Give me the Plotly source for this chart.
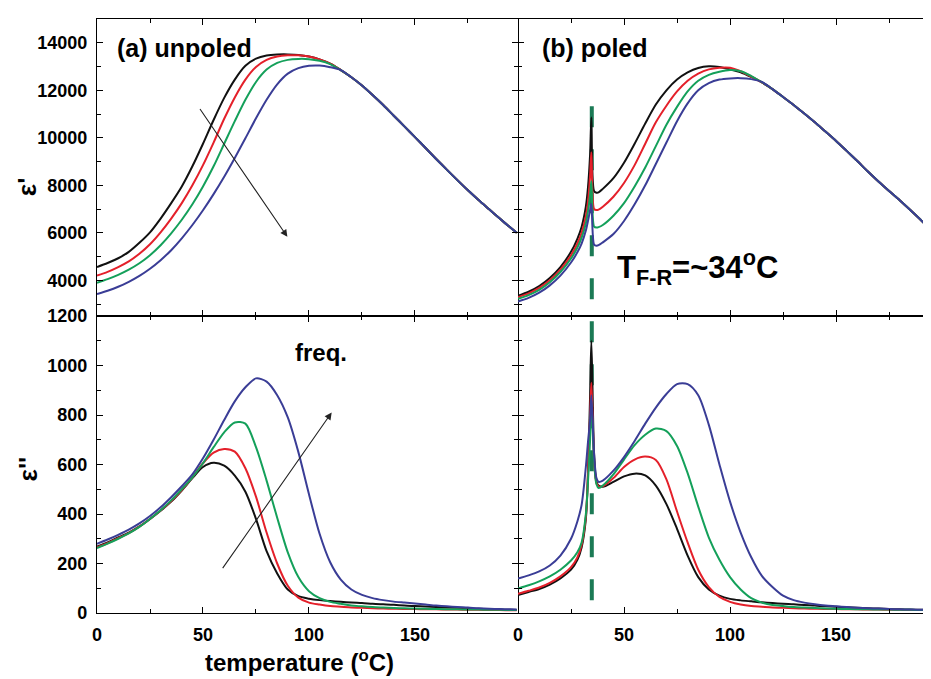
import plotly.graph_objects as go

# ---------------- data ----------------
temp_unpoled = [0, 5, 10, 15, 20, 25, 30, 35, 40, 45, 50, 55, 60, 65, 70, 75, 80, 85, 90, 95,
                100, 105, 110, 115, 120, 125, 130, 135, 140, 145, 150, 155, 160, 165, 170, 175,
                180, 185, 190, 195, 198]
temp_poled = [0, 5, 10, 15, 20, 25, 28, 30, 32, 33, 34, 34.6, 35.9, 37, 38, 40,
              45, 50, 55, 60, 65, 70, 75, 80, 85, 90, 95, 100, 105, 110, 115, 120, 125, 130,
              135, 140, 145, 150, 155, 160, 165, 170, 175, 180, 185, 190, 195]

# (a) unpoled, real part
er_unpoled_black = [4565, 4730, 4930, 5200, 5580, 6020, 6600, 7250, 7950, 8800, 9750, 10750, 11680,
                    12450, 13030, 13330, 13460, 13505, 13510, 13490, 13420, 13300, 13120,
                    12850, 12550, 12200, 11800, 11380, 10930, 10480, 10030, 9570, 9110, 8660, 8220,
                    7790, 7380, 6990, 6600, 6220, 6000]
er_unpoled_red = [4200, 4360, 4560, 4800, 5120, 5520, 6020, 6600, 7250, 8000, 8850, 9800, 10800,
                  11700, 12450, 12980, 13280, 13420, 13470, 13470, 13420, 13300, 13120,
                  12850, 12550, 12200, 11800, 11380, 10930, 10480, 10030, 9570, 9110, 8660, 8220,
                  7790, 7380, 6990, 6600, 6220, 6000]
er_unpoled_green = [3900, 4050, 4230, 4450, 4720, 5060, 5480, 5980, 6550, 7200, 7950, 8800, 9750,
                    10700, 11600, 12350, 12870, 13150, 13280, 13320, 13310, 13240, 13100,
                    12850, 12550, 12200, 11800, 11380, 10930, 10480, 10030, 9570, 9110, 8660, 8220,
                    7790, 7380, 6990, 6600, 6220, 6000]
er_unpoled_blue = [3420, 3560, 3730, 3940, 4190, 4490, 4850, 5270, 5770, 6330, 6950, 7630, 8360,
                   9150, 9980, 10820, 11600, 12250, 12700, 12930, 13030, 13040, 12970,
                   12850, 12550, 12200, 11800, 11380, 10930, 10480, 10030, 9570, 9110, 8660, 8220,
                   7790, 7380, 6990, 6600, 6220, 6000]

# (a) unpoled, imaginary part
ei_unpoled_black = [268, 285, 305, 325, 350, 380, 413, 450, 495, 545, 590, 607, 595, 555, 490, 380,
                    250, 160, 95, 68, 58, 52, 48, 45, 42, 40, 37, 35, 33, 30, 28, 26, 24, 22, 20,
                    18, 17, 15, 14, 13, 12]
ei_unpoled_red = [265, 282, 302, 323, 349, 380, 414, 452, 497, 548, 605, 648, 663, 652, 585, 470,
                  325, 200, 110, 62, 42, 34, 28, 25, 22, 21, 19, 18, 17, 16, 16, 15, 15, 14, 14,
                  13, 13, 12, 12, 11, 11]
ei_unpoled_green = [262, 280, 300, 322, 348, 380, 415, 455, 500, 548, 605, 670, 730, 770, 765, 670,
                    535, 385, 245, 145, 88, 60, 45, 37, 30, 27, 24, 22, 20, 19, 18, 17, 16, 15, 15,
                    14, 14, 13, 13, 12, 12]
ei_unpoled_blue = [280, 297, 316, 337, 362, 392, 427, 468, 512, 560, 625, 700, 780, 855, 912, 948,
                   935, 880, 790, 650, 480, 320, 205, 135, 95, 73, 60, 52, 46, 42, 38, 34, 30, 27,
                   24, 22, 19, 17, 16, 15, 14]

# (b) poled, real part
er_poled_black = [3350, 3520, 3760, 4100, 4560, 5200, 5750, 6250, 7100, 7900, 9300, 10850, 7750,
                  7690, 7700, 7850, 8300, 8950, 9750, 10600, 11400, 12000, 12450, 12750, 12940,
                  13010, 12980, 12880, 12760, 12560, 12330, 12050, 11720, 11380, 11020, 10650,
                  10260, 9870, 9450, 9020, 8580, 8160, 7760, 7370, 6960, 6540, 6100]
er_poled_red = [3290, 3450, 3680, 4000, 4450, 5050, 5550, 6000, 6700, 7300, 8400, 9390, 7000,
                6960, 6980, 7100, 7520, 8100, 8850, 9750, 10650, 11350, 11950, 12400, 12700,
                12880, 12950, 12950, 12800, 12580, 12330, 12050, 11720, 11380, 11020, 10650,
                10260, 9870, 9450, 9020, 8580, 8160, 7760, 7370, 6960, 6540, 6100]
er_poled_green = [3220, 3380, 3600, 3920, 4350, 4920, 5380, 5800, 6400, 6900, 7600, 8170, 6260,
                  6220, 6240, 6330, 6720, 7250, 7950, 8750, 9650, 10550, 11300, 11950, 12400,
                  12650, 12780, 12850, 12800, 12600, 12340, 12050, 11720, 11380, 11020, 10650,
                  10260, 9870, 9450, 9020, 8580, 8160, 7760, 7370, 6960, 6540, 6100]
er_poled_blue = [3110, 3260, 3480, 3790, 4200, 4750, 5180, 5550, 6100, 6500, 6950, 7210, 5500,
                 5460, 5480, 5600, 5950, 6500, 7200, 8000, 8900, 9800, 10700, 11450, 12000,
                 12300, 12450, 12500, 12510, 12470, 12350, 12050, 11720, 11380, 11020, 10650,
                 10260, 9870, 9450, 9020, 8580, 8160, 7760, 7370, 6960, 6540, 6100]

# (b) poled, imaginary part
ei_poled_black = [73, 85, 97, 115, 140, 175, 215, 265, 380, 560, 880, 1100, 640, 530, 515, 510,
                  530, 552, 563, 556, 515, 440, 340, 232, 145, 95, 70, 57, 51, 47, 43, 40, 37, 35,
                  32, 30, 27, 25, 23, 21, 19, 18, 16, 15, 14, 13, 12]
ei_poled_red = [78, 90, 103, 122, 148, 185, 225, 275, 390, 560, 800, 930, 620, 525, 512, 512,
                545, 590, 620, 632, 618, 540, 410, 285, 175, 105, 65, 45, 34, 28, 25, 22, 21, 19,
                18, 17, 16, 16, 15, 15, 14, 14, 13, 13, 12, 12, 12]
ei_poled_green = [99, 112, 128, 148, 175, 212, 245, 285, 400, 530, 700, 860, 610, 520, 505, 515,
                  560, 620, 678, 720, 745, 735, 675, 565, 430, 305, 215, 145, 95, 60, 42, 32, 28,
                  24, 22, 20, 18, 17, 16, 15, 15, 14, 14, 13, 13, 12, 12]
ei_poled_blue = [139, 152, 168, 192, 232, 300, 370, 437, 590, 690, 780, 880, 640, 545, 530, 535,
                 575, 630, 695, 765, 830, 885, 925, 925, 880, 760, 600, 450, 325, 225, 150, 105,
                 70, 52, 42, 35, 30, 27, 24, 21, 19, 18, 16, 15, 14, 13, 13]

x_tick_values = [0, 50, 100, 150]
transition_temp = 34.8

# ---------------- figure ----------------
colors = ["#111111", "#e4202a", "#14a05a", "#3a3d96"]
FONT = "Liberation Sans, Arial, Helvetica, sans-serif"

fig = go.Figure()

panels = [
    (temp_unpoled, [er_unpoled_black, er_unpoled_red, er_unpoled_green, er_unpoled_blue], "x", "y"),
    (temp_poled, [er_poled_black, er_poled_red, er_poled_green, er_poled_blue], "x2", "y2"),
    (temp_unpoled, [ei_unpoled_black, ei_unpoled_red, ei_unpoled_green, ei_unpoled_blue], "x3", "y3"),
    (temp_poled, [ei_poled_black, ei_poled_red, ei_poled_green, ei_poled_blue], "x4", "y4"),
]
for xs, series, xa, ya in panels:
    for ys, c in zip(series, colors):
        fig.add_trace(go.Scatter(x=xs, y=ys, mode="lines", xaxis=xa, yaxis=ya,
                                 line=dict(color=c, width=2, shape="spline", smoothing=0.8),
                                 showlegend=False, hoverinfo="skip"))

tick_font = dict(family=FONT, size=18, color="black", weight="bold")
common = dict(showline=True, linecolor="black", linewidth=1.2, ticks="inside", ticklen=6,
              tickwidth=1.2, tickcolor="black", showgrid=False, zeroline=False,
              tickfont=tick_font, ticklabelstandoff=5)

LW = 421 / 833
x_minor = dict(dtick=25, tick0=0, ticks="inside", ticklen=4, tickcolor="black", tickwidth=1.2,
               showgrid=False)
xcommon = dict(common, tickmode="array", tickvals=x_tick_values, minor=x_minor, mirror="ticks")

def ycfg(dom, anchor, rng, dt, mdt, labels, line=True, mirror="ticks"):
    d = dict(common, domain=dom, anchor=anchor, range=rng, dtick=dt, tick0=0, tickformat="d",
             minor=dict(dtick=mdt, ticks="inside", ticklen=4, tickcolor="black", tickwidth=1.2),
             showticklabels=labels, showline=line)
    if mirror:
        d["mirror"] = mirror
    return d

fig.update_layout(
    xaxis=dict(xcommon, domain=[0, LW], anchor="y", range=[0, 198.6], showticklabels=False),
    xaxis2=dict(xcommon, domain=[LW, 1], anchor="y2", range=[0, 194.3], showticklabels=False),
    xaxis3=dict(xcommon, domain=[0, LW], anchor="y3", range=[0, 198.6]),
    xaxis4=dict(xcommon, domain=[LW, 1], anchor="y4", range=[0, 194.3]),
    yaxis=ycfg([0.5, 1], "x", [2500, 15000], 2000, 1000, True),
    yaxis2=ycfg([0.5, 1], "x2", [2500, 15000], 2000, 1000, False, line=False, mirror=None),
    yaxis3=ycfg([0, 0.5], "x3", [0, 1200], 200, 100, True),
    yaxis4=ycfg([0, 0.5], "x4", [0, 1200], 200, 100, False, line=False, mirror=None),
    width=923, height=671,
    margin=dict(l=89, r=1, t=1, b=66),
    paper_bgcolor="white", plot_bgcolor="white",
    showlegend=False,
    font=dict(family=FONT, color="black"),
)

# dashed transition line
fig.add_shape(type="line", xref="x2", yref="paper", x0=transition_temp, x1=transition_temp,
              y0=(613 - 600) / 604, y1=(613 - 78) / 604, layer="below",
              line=dict(color="#1b7a55", width=4, dash="21px,22px"))

ann = []
ann.append(dict(text="<b>(a) unpoled</b>", xref="x", yref="y", x=8.5, y=13800, xanchor="left",
                yanchor="middle", showarrow=False, font=dict(family=FONT, size=25, color="black")))
ann.append(dict(text="<b>(b) poled</b>", xref="x2", yref="y2", x=10.4, y=13800, xanchor="left",
                yanchor="middle", showarrow=False, font=dict(family=FONT, size=25, color="black")))
ann.append(dict(text="<b>T<sub>F-R</sub>=~34<sup>o</sup>C</b>", xref="x2", yref="y2", x=45.8, y=4550,
                xanchor="left", yanchor="middle", showarrow=False,
                font=dict(family=FONT, size=31, color="black")))
ann.append(dict(text="<b>freq.</b>", xref="x3", yref="y3", x=105.7, y=1054, xanchor="center",
                yanchor="middle", showarrow=False, font=dict(family=FONT, size=24, color="black")))
# arrows
ann.append(dict(x=89.8, y=5832, ax=48.1, ay=11273, xref="x", yref="y", axref="x", ayref="y",
                text="", showarrow=True, arrowhead=2, arrowsize=1.3, arrowwidth=1.1, arrowcolor="#222"))
ann.append(dict(x=110.7, y=810, ax=58.8, ay=175, xref="x3", yref="y3", axref="x3", ayref="y3",
                text="", showarrow=True, arrowhead=2, arrowsize=1.3, arrowwidth=1.1, arrowcolor="#222"))
# axis titles
ann.append(dict(text="<b>ε'</b>", xref="paper", yref="paper", x=(27 - 97) / 833, y=(613 - 180) / 604,
                textangle=-90, showarrow=False, xanchor="center", yanchor="middle",
                font=dict(family=FONT, size=26, color="black")))
ann.append(dict(text="<b>ε''</b>", xref="paper", yref="paper", x=(28 - 97) / 833, y=(613 - 467) / 604,
                textangle=-90, showarrow=False, xanchor="center", yanchor="middle",
                font=dict(family=FONT, size=26, color="black")))
ann.append(dict(text="<b>temperature (<sup>o</sup>C)</b>", xref="paper", yref="paper",
                x=(299 - 97) / 833, y=(613 - 662) / 604, showarrow=False, xanchor="center",
                yanchor="middle", font=dict(family=FONT, size=24, color="black")))
fig.update_layout(annotations=ann)

fig.write_html("out.html")
